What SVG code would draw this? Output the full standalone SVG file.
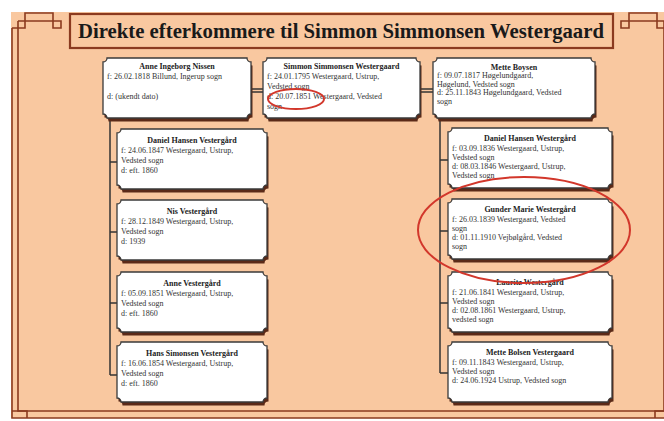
<svg xmlns="http://www.w3.org/2000/svg" xmlns:xlink="http://www.w3.org/1999/xlink" width="664" height="421" viewBox="0 0 664 421">
<style>
.fr{fill:none;stroke:#8b3a1f;stroke-width:1.6}
.sh{fill:#5b2a18}
.bx{fill:#fff;stroke:#3a3a3a;stroke-width:1.3}
.n{font-family:"Liberation Serif",serif;font-weight:bold;font-size:8px;text-anchor:middle;fill:#222}
.t{font-family:"Liberation Serif",serif;font-size:8px;fill:#333}
.c{fill:none;stroke:#333;stroke-width:1.5}
.red{fill:none;stroke:#d2372b;stroke-width:2}
</style>
<defs>
<path id="b148" d="M4 0H144A4 4 0 0 0 148 4V56A4 4 0 0 0 144 60H4A4 4 0 0 0 0 56V4A4 4 0 0 0 4 0Z"/>
<path id="b157" d="M4 0H153A4 4 0 0 0 157 4V56A4 4 0 0 0 153 60H4A4 4 0 0 0 0 56V4A4 4 0 0 0 4 0Z"/>
<path id="b162" d="M4 0H158A4 4 0 0 0 162 4V56A4 4 0 0 0 158 60H4A4 4 0 0 0 0 56V4A4 4 0 0 0 4 0Z"/>
<path id="b150" d="M4 0H146A4 4 0 0 0 150 4V56A4 4 0 0 0 146 60H4A4 4 0 0 0 0 56V4A4 4 0 0 0 4 0Z"/>
<path id="b164" d="M4 0H160A4 4 0 0 0 164 4V56A4 4 0 0 0 160 60H4A4 4 0 0 0 0 56V4A4 4 0 0 0 4 0Z"/>
<g id="half">
<path class="fr" d="M12 28V418H341"/>
<path class="fr" d="M18 21V411H341"/>
<path class="fr" d="M12 28H25V13H53V28H61V21H18"/>
<path class="fr" d="M12 411H27V418"/>
</g>
</defs>
<rect x="0" y="0" width="664" height="421" fill="#fff"/>
<rect x="11" y="12" width="653" height="406" fill="#f9c8a0"/>
<g id="frame">
<use xlink:href="#half"/>
<use xlink:href="#half" transform="translate(682,0) scale(-1,1)"/>
</g>
<g id="title">
<rect x="70" y="14" width="543" height="34" fill="#f9c8a0" stroke="#8b3a1f" stroke-width="2.2"/>
<text x="341" y="38" font-family="'Liberation Serif',serif" font-weight="bold" font-size="21" text-anchor="middle" fill="#1a1a1a" textLength="526" lengthAdjust="spacingAndGlyphs">Direkte efterkommere til Simmon Simmonsen Westergaard</text>
</g>
<g id="connectors">
<path class="c" d="M251 89H263M251 92H263M420 89H433M420 92H433" stroke-width="1.2"/>
<path class="c" d="M110 120V375M110 162H117M110 232H117M110 303H117M110 375H117"/>
<path class="c" d="M440 120V373M440 160H448M440 231H448M440 303H448M440 373H448"/>
</g>
<g id="anne-ingeborg-nissen" transform="translate(103,58)">
<use xlink:href="#b148" class="sh" x="1.5" y="3.5"/><use xlink:href="#b148" class="bx"/>
<text class="n" x="74" y="11">Anne Ingeborg Nissen</text>
<text class="t" x="4" y="21">f: 26.02.1818 Billund, Ingerup sogn</text>
<text class="t" x="4" y="41">d: (ukendt dato)</text>
</g>
<g id="simmon-simmonsen-westergaard" transform="translate(263,58)">
<use xlink:href="#b157" class="sh" x="1.5" y="3.5"/><use xlink:href="#b157" class="bx"/>
<text class="n" x="78.5" y="11">Simmon Simmonsen Westergaard</text>
<text class="t" x="4" y="21">f: 24.01.1795 Westergaard, Ustrup,</text>
<text class="t" x="4" y="31">Vedsted sogn</text>
<text class="t" x="4" y="41">d: 20.07.1851 Westergaard, Vedsted</text>
<text class="t" x="4" y="51">sogn</text>
</g>
<g id="mette-boysen" transform="translate(433,58)">
<use xlink:href="#b162" class="sh" x="1.5" y="3.5"/><use xlink:href="#b162" class="bx"/>
<text class="n" x="81" y="11.5">Mette Boysen</text>
<text class="t" x="4" y="20">f: 09.07.1817 Høgelundgaard,</text>
<text class="t" x="4" y="28.5">Høgelund, Vedsted sogn</text>
<text class="t" x="4" y="37">d: 25.11.1843 Høgelundgaard, Vedsted</text>
<text class="t" x="4" y="45.5">sogn</text>
</g>
<g id="daniel-hansen-vestergaard" transform="translate(117,129)">
<use xlink:href="#b150" class="sh" x="1.5" y="3.5"/><use xlink:href="#b150" class="bx"/>
<text class="n" x="75" y="14">Daniel Hansen Vestergård</text>
<text class="t" x="4" y="23.5">f: 24.06.1847 Westergaard, Ustrup,</text>
<text class="t" x="4" y="33.5">Vedsted sogn</text>
<text class="t" x="4" y="43.5">d: eft. 1860</text>
</g>
<g id="nis-vestergaard" transform="translate(117,200)">
<use xlink:href="#b150" class="sh" x="1.5" y="3.5"/><use xlink:href="#b150" class="bx"/>
<text class="n" x="75" y="14">Nis Vestergård</text>
<text class="t" x="4" y="23.5">f: 28.12.1849 Westergaard, Ustrup,</text>
<text class="t" x="4" y="33.5">Vedsted sogn</text>
<text class="t" x="4" y="43.5">d: 1939</text>
</g>
<g id="anne-vestergaard" transform="translate(117,272)">
<use xlink:href="#b150" class="sh" x="1.5" y="3.5"/><use xlink:href="#b150" class="bx"/>
<text class="n" x="75" y="14">Anne Vestergård</text>
<text class="t" x="4" y="23.5">f: 05.09.1851 Westergaard, Ustrup,</text>
<text class="t" x="4" y="33.5">Vedsted sogn</text>
<text class="t" x="4" y="43.5">d: eft. 1860</text>
</g>
<g id="hans-simonsen-vestergaard" transform="translate(117,342)">
<use xlink:href="#b150" class="sh" x="1.5" y="3.5"/><use xlink:href="#b150" class="bx"/>
<text class="n" x="75" y="14">Hans Simonsen Vestergård</text>
<text class="t" x="4" y="23.5">f: 16.06.1854 Westergaard, Ustrup,</text>
<text class="t" x="4" y="33.5">Vedsted sogn</text>
<text class="t" x="4" y="43.5">d: eft. 1860</text>
</g>
<g id="daniel-hansen-westergaard" transform="translate(448,128)">
<use xlink:href="#b164" class="sh" x="1.5" y="3.5"/><use xlink:href="#b164" class="bx"/>
<text class="n" x="82" y="13">Daniel Hansen Westergård</text>
<text class="t" x="4" y="22.5">f: 03.09.1836 Westergaard, Ustrup,</text>
<text class="t" x="4" y="31.5">Vedsted sogn</text>
<text class="t" x="4" y="40.5">d: 08.03.1846 Westergaard, Ustrup,</text>
<text class="t" x="4" y="49.5">Vedsted sogn</text>
</g>
<g id="gunder-marie-westergaard" transform="translate(448,199)">
<use xlink:href="#b164" class="sh" x="1.5" y="3.5"/><use xlink:href="#b164" class="bx"/>
<text class="n" x="82" y="13">Gunder Marie Westergård</text>
<text class="t" x="4" y="22.5">f: 26.03.1839 Westergaard, Vedsted</text>
<text class="t" x="4" y="31.5">sogn</text>
<text class="t" x="4" y="40.5">d: 01.11.1910 Vejbølgård, Vedsted</text>
<text class="t" x="4" y="49.5">sogn</text>
</g>
<g id="lauritz-westergaard" transform="translate(448,272)">
<use xlink:href="#b164" class="sh" x="1.5" y="3.5"/><use xlink:href="#b164" class="bx"/>
<text class="n" x="82" y="13">Lauritz Westergård</text>
<text class="t" x="4" y="22.5">f: 21.06.1841 Westergaard, Ustrup,</text>
<text class="t" x="4" y="31.5">Vedsted sogn</text>
<text class="t" x="4" y="40.5">d: 02.08.1861 Westergaard, Ustrup,</text>
<text class="t" x="4" y="49.5">vedsted sogn</text>
</g>
<g id="mette-bolsen-vestergaard" transform="translate(448,342)">
<use xlink:href="#b164" class="sh" x="1.5" y="3.5"/><use xlink:href="#b164" class="bx"/>
<text class="n" x="82" y="13">Mette Bolsen Vestergaard</text>
<text class="t" x="4" y="22.5">f: 09.11.1843 Westergaard, Ustrup,</text>
<text class="t" x="4" y="31.5">Vedsted sogn</text>
<text class="t" x="4" y="40.5">d: 24.06.1924 Ustrup, Vedsted sogn</text>
</g>
<g id="highlights">
<ellipse class="red" cx="296" cy="99" rx="28" ry="10"/>
<ellipse class="red" cx="524" cy="230" rx="106" ry="53"/>
</g>
</svg>
